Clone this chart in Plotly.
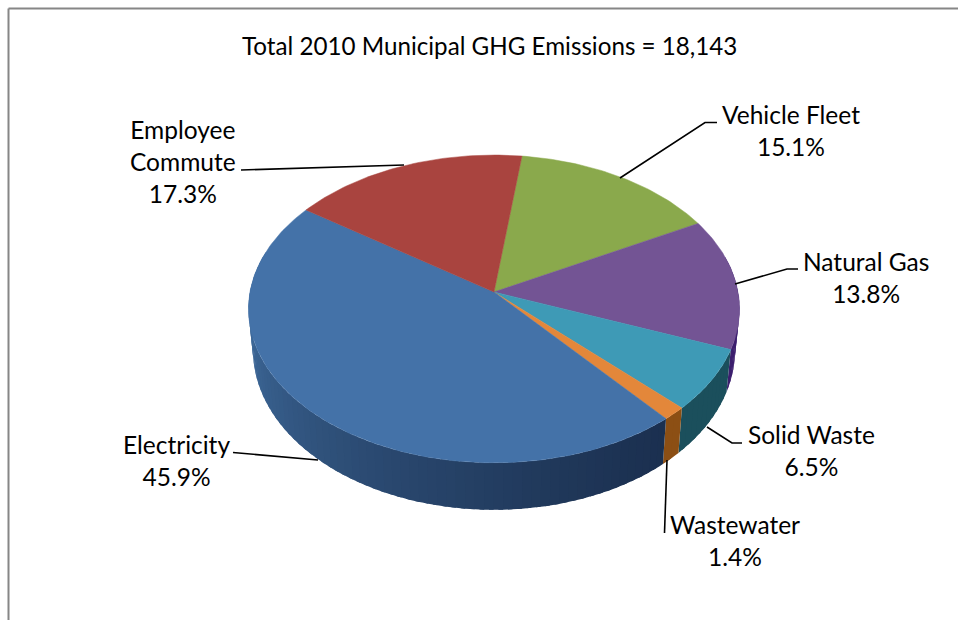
import math
import plotly.graph_objects as go

# ---- data ----
TITLE = "Total 2010 Municipal GHG Emissions = 18,143"
categories = ["Vehicle Fleet", "Natural Gas", "Solid Waste", "Wastewater", "Electricity", "Employee Commute"]
values = [15.1, 13.8, 6.5, 1.4, 45.9, 17.3]
value_labels = ["15.1%", "13.8%", "6.5%", "1.4%", "45.9%", "17.3%"]
label_lines = ["Vehicle Fleet", "Natural Gas", "Solid Waste", "Wastewater", "Electricity", "Employee<br>Commute"]

# ---- style ----
top_colors = ["#8AA94C", "#735494", "#3E9AB6", "#E3873A", "#4472A8", "#A9443F"]
side_near = ["#55692f", "#3c1f6e", "#1B4F5C", "#8C4F14", "#1B3050", "#6b2a27"]
side_far = ["#55692f", "#3c1f6e", "#1B4F5C", "#8C4F14", "#3D6898", "#6b2a27"]
label_pos = [(791, 130), (866, 277), (811, 450), (735, 540), (176, 460), (183, 161)]
leaders = [
    [(620, 178), (705, 122.5), (717, 122.5)],
    [(735, 284), (787, 269), (798, 269)],
    [(707, 427), (732, 443), (742, 443)],
    [(667, 460), (664.5, 533)],
    [(318, 460), (245, 453), (233, 452.5)],
    [(404, 165), (241, 170)],
]

# projection of the pie (pixel axes)
CX, CY = 494, 292
A, B, K = 244, 152, 0.11
START_DEG = 7.3
DEPTH = 47
SHRINK = 0.982
FONT = "Lato, Carlito, Calibri, sans-serif"


def rim(theta):
    u, v = math.sin(theta), math.cos(theta)
    w = 1 + K * v
    return CX + A * u / w, CY - B * v / w


def base(theta):
    x, y = rim(theta)
    v = math.cos(theta)
    return CX + SHRINK * (x - CX), y + DEPTH - 7 * (1 + v)


def mix(c1, c2, t):
    a = [int(c1[i:i + 2], 16) for i in (1, 3, 5)]
    b = [int(c2[i:i + 2], 16) for i in (1, 3, 5)]
    return "rgb(%d,%d,%d)" % tuple(round(p + (q - p) * t) for p, q in zip(a, b))


fig = go.Figure()

# slice boundaries derived from the values
total = sum(values)
edges = [math.radians(START_DEG)]
for val in values:
    edges.append(edges[-1] + 2 * math.pi * val / total)

# side wall: fill-only quads, each overlapping the next to hide seams
for i, (lo, hi) in enumerate(zip(edges[:-1], edges[1:])):
    n = max(2, int(math.degrees(hi - lo) / 2))
    for j in range(n):
        t0 = lo + (hi - lo) * j / n
        t1 = lo + (hi - lo) * (j + 1) / n
        mid = (t0 + t1) / 2
        if math.cos(mid) > 0.25:
            continue
        near = max(0.0, min(1.0, (math.degrees(mid) % 360 - 140) / 120)) ** 1.3
        col = mix(side_near[i], side_far[i], near)
        ext = math.radians(1.0) if j < n - 1 else 0
        arc = [t0 + (t1 + ext - t0) * k / 3 for k in range(4)]
        p = [rim(t) for t in arc] + [base(t) for t in reversed(arc)]
        p.append(p[0])
        fig.add_trace(go.Scatter(
            x=[q[0] for q in p], y=[q[1] for q in p], mode="none", fill="toself",
            fillcolor=col, hoverinfo="skip", showlegend=False))

# top faces
for i, (lo, hi) in enumerate(zip(edges[:-1], edges[1:])):
    n = max(4, int(math.degrees(hi - lo)))
    pts = [rim(lo + (hi - lo) * j / n) for j in range(n + 1)]
    xs = [CX] + [q[0] for q in pts] + [CX]
    ys = [CY] + [q[1] for q in pts] + [CY]
    fig.add_trace(go.Scatter(
        x=xs, y=ys, mode="lines", fill="toself", fillcolor=top_colors[i],
        line=dict(color=top_colors[i], width=0.5), name=categories[i],
        hovertemplate=categories[i] + ": " + value_labels[i] + "<extra></extra>", showlegend=False))

# leader lines
for path in leaders:
    fig.add_trace(go.Scatter(
        x=[q[0] for q in path], y=[q[1] for q in path], mode="lines",
        line=dict(color="#000000", width=1.6), hoverinfo="skip", showlegend=False))

annotations = [dict(x=489, y=45.5, text=TITLE, showarrow=False, xref="x", yref="y",
                    xanchor="center", yanchor="middle", font=dict(family=FONT, size=24.2, color="#000000"))]
for lab, val, pos in zip(label_lines, value_labels, label_pos):
    annotations.append(dict(x=pos[0], y=pos[1], text=lab + "<br>" + val, showarrow=False,
                            xref="x", yref="y", xanchor="center", yanchor="middle", align="center",
                            font=dict(family=FONT, size=24.5, color="#000000")))

fig.update_layout(
    width=958, height=620, margin=dict(l=0, r=0, t=0, b=0),
    paper_bgcolor="#ffffff", plot_bgcolor="#ffffff", showlegend=False,
    xaxis=dict(range=[0, 958], visible=False, fixedrange=True),
    yaxis=dict(range=[620, 0], visible=False, fixedrange=True),
    annotations=annotations,
    shapes=[
        dict(type="line", xref="x", yref="y", x0=8.5, y0=8.5, x1=958, y1=8.5, line=dict(color="#868686", width=2)),
        dict(type="line", xref="x", yref="y", x0=8.5, y0=8.5, x1=8.5, y1=620, line=dict(color="#868686", width=2)),
    ],
)
fig.write_html("out.html", config={"displayModeBar": False},
               post_script="document.body.style.margin='0';document.body.style.overflow='hidden';")
